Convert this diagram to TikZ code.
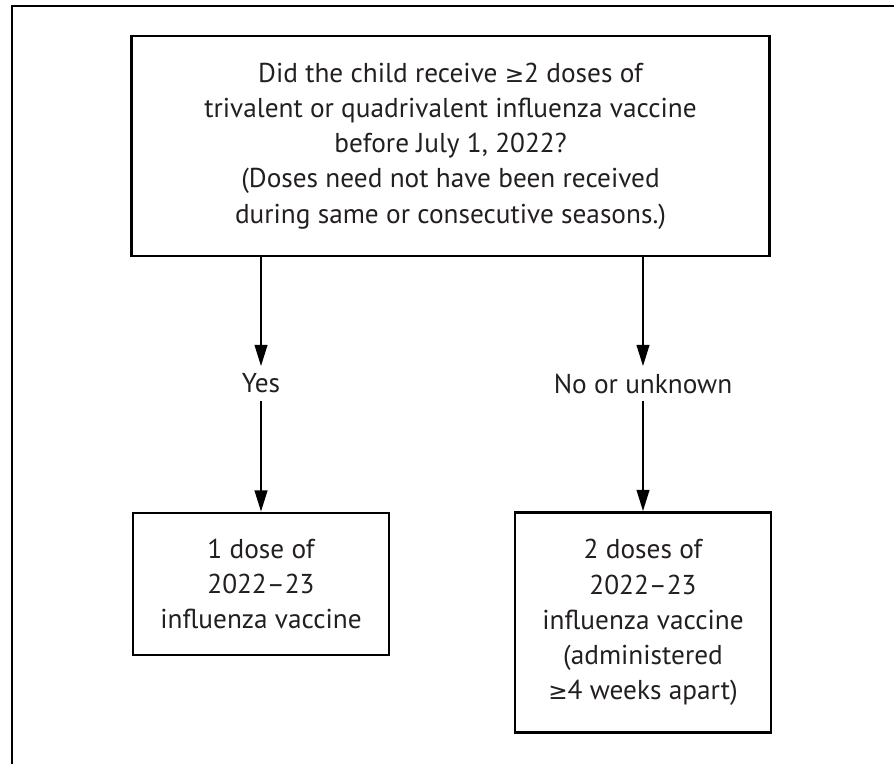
\documentclass[tikz,border=0pt]{standalone}
\usepackage{fontspec}
\setmainfont{PT Sans}
\newfontfamily\symfont[Scale=0.85]{DejaVu Sans}
\usetikzlibrary{positioning, arrows.meta}
\definecolor{ink}{HTML}{231F20}

\begin{document}
\begin{tikzpicture}[x=0.025cm, y=-0.025cm, font=\fontsize{19.4}{25}\selectfont,
    text=ink, line width=1.3pt, >={Triangle[length=15pt, width=9pt]}]
    \tikzset{box/.style={draw, line width=2pt, align=center, inner sep=0pt},
             answer/.style={inner sep=0pt, minimum height=23.5pt}}
    \useasboundingbox (0,0) rectangle (894,764);
    \draw[line width=2pt] (12,764) -- (12,6) -- (894,6);
    \node[box, minimum width=15.95cm, minimum height=5.5cm] (q) at (450.5,146)
      {Did the child receive {\symfont ≥}2 doses of\\
       trivalent or quadrivalent influenza vaccine\\
       before July 1, 2022?\\
       (Doses need not have been received\\
       during same or consecutive seasons.)};
    \node[answer] (yes) at (261,383.5) {Yes};
    \node[answer] (no) at (643,383.5) {No or unknown};
    \node[box, minimum width=6.4cm, minimum height=3.55cm] (one) at (261,584)
      {1 dose of\\ 2022--23\\ influenza vaccine};
    \node[box, minimum width=6.4cm, minimum height=5.5cm] (two) at (643,622.5)
      {2 doses of\\ 2022--23\\ influenza vaccine\\ (administered\\ {\symfont ≥}4 weeks apart)};
    \draw[->] (q.south -| yes) -- (yes.north);
    \draw[->] (yes.south) -- (one.north);
    \draw[->] (q.south -| no) -- (no.north);
    \draw[->] (no.south) -- (two.north);
  \end{tikzpicture}
\end{document}
